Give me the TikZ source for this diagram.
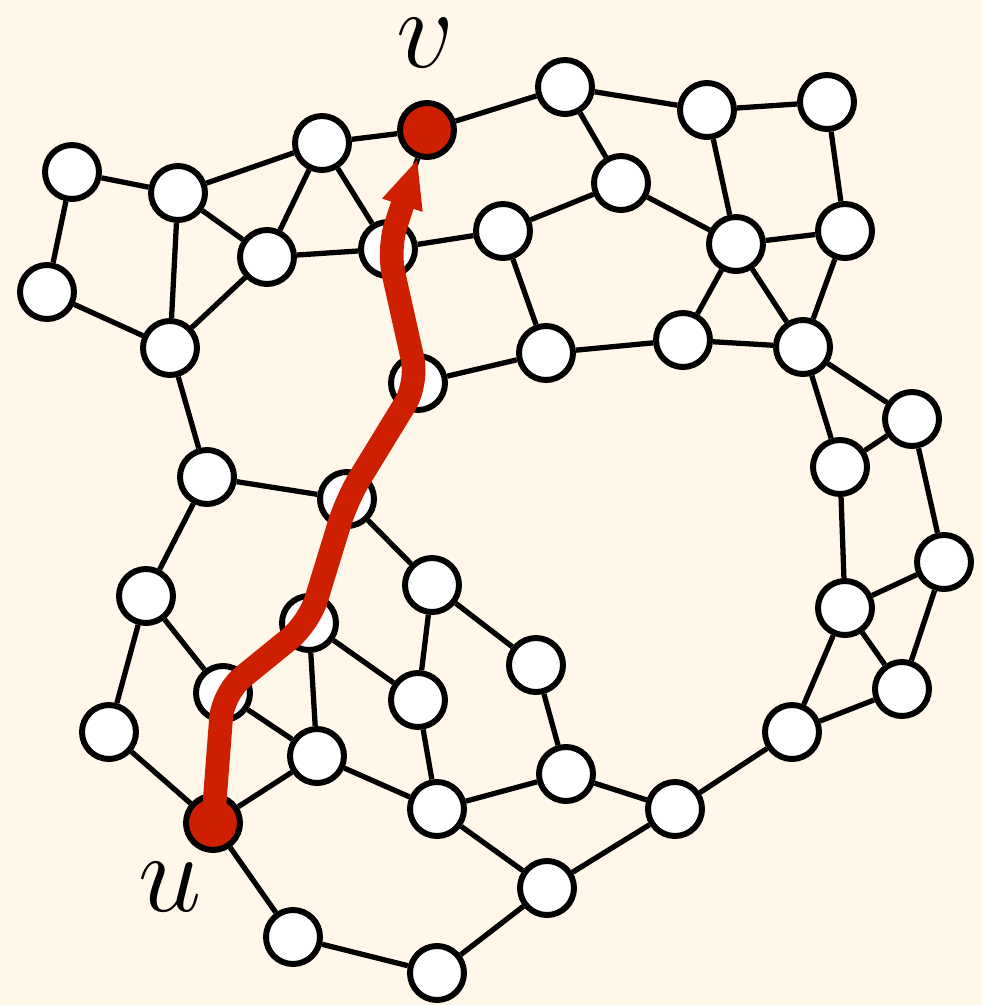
\documentclass[tikz,border=0pt]{standalone}
\usetikzlibrary{arrows.meta}
\definecolor{bgcream}{RGB}{255,247,233}
\definecolor{pathred}{RGB}{206,32,0}
\tikzset{
  vtx/.style={circle, draw=black, fill=white, line width=3.4pt, minimum size=1.08cm, inner sep=0pt},
  redvtx/.style={vtx, fill=pathred},
  edge/.style={draw=black, line width=3pt},
  redpath/.style={draw=pathred, line width=13.5pt, rounded corners=0.5cm, -{Triangle[length=28pt,width=22pt]}},
  lbl/.style={inner sep=0pt}
}
\begin{document}
\begin{tikzpicture}[x=0.02cm, y=-0.02cm]
\fill[bgcream] (0,0) rectangle (982,1005);
\useasboundingbox (0,0) rectangle (982,1005);
% vertices
\node[redvtx] (v) at (427,130) {};
\node[vtx] (n1) at (72,172) {};
\node[vtx] (n2) at (47,292) {};
\node[vtx] (n3) at (178,193) {};
\node[vtx] (n4) at (322,143) {};
\node[vtx] (n5) at (267,257) {};
\node[vtx] (n6) at (388,249) {};
\node[vtx] (n7) at (170,348) {};
\node[vtx] (n8) at (503,231) {};
\node[vtx] (n9) at (565,87) {};
\node[vtx] (n10) at (621,183) {};
\node[vtx] (n11) at (707,110) {};
\node[vtx] (n12) at (827,102) {};
\node[vtx] (n13) at (736,244) {};
\node[vtx] (n14) at (845,231) {};
\node[vtx] (n15) at (683,340) {};
\node[vtx] (n16) at (546,353) {};
\node[vtx] (n17) at (803,347) {};
\node[vtx] (n18) at (418,383) {};
\node[vtx] (n19) at (912,419) {};
\node[vtx] (n20) at (207,477) {};
\node[vtx] (n21) at (347,499) {};
\node[vtx] (n22) at (840,467) {};
\node[vtx] (n23) at (146,596) {};
\node[vtx] (n24) at (432,585) {};
\node[vtx] (n25) at (944,562) {};
\node[vtx] (n26) at (309,623) {};
\node[vtx] (n27) at (536,665) {};
\node[vtx] (n28) at (845,608) {};
\node[vtx] (n29) at (223,693) {};
\node[vtx] (n30) at (418,700) {};
\node[vtx] (n31) at (109,732) {};
\node[vtx] (n32) at (317,756) {};
\node[vtx] (n33) at (566,774) {};
\node[vtx] (n34) at (902,689) {};
\node[vtx] (n35) at (792,732) {};
\node[redvtx] (u) at (213,823) {};
\node[vtx] (n36) at (437,809) {};
\node[vtx] (n37) at (675,809) {};
\node[vtx] (n38) at (547,888) {};
\node[vtx] (n39) at (293,937) {};
\node[vtx] (n40) at (437,973) {};
% edges
\foreach \a/\b in {n1/n2,n1/n3,n2/n7,n3/n4,n3/n5,n3/n7,n4/v,n4/n5,n4/n6,n5/n6,n5/n7,
  v/n9,n9/n10,n9/n11,n10/n8,n10/n13,n11/n12,n11/n13,n12/n14,n13/n14,n13/n15,n13/n17,
  n14/n17,n15/n16,n15/n17,n6/n8,n8/n16,n16/n18,n7/n20,n20/n21,n20/n23,n21/n24,
  n17/n19,n17/n22,n19/n22,n19/n25,n22/n28,n25/n28,n25/n34,n28/n34,n28/n35,n34/n35,
  n35/n37,n24/n27,n24/n30,n27/n33,n26/n30,n26/n29,n26/n32,n23/n29,n23/n31,n31/u,
  n29/n32,u/n32,u/n39,n32/n36,n30/n36,n36/n33,n33/n37,n36/n38,n37/n38,n38/n40,n39/n40,
  u/n29,n26/n21,n21/n18,n18/n6,n6/v}
  \draw[edge] (\a) -- (\b);
% red path
\draw[redpath] (u.center) -- (n29.center) -- (n26.center) -- (n21.center) -- (n18.center) -- (n6.center) -- (v);
% labels
\node[lbl] (lv) at (425,43) {\scalebox{2.6}{\Huge$v$}};
\node[lbl] (lu) at (170,887) {\scalebox{2.6}{\Huge$u$}};
\end{tikzpicture}
\end{document}
